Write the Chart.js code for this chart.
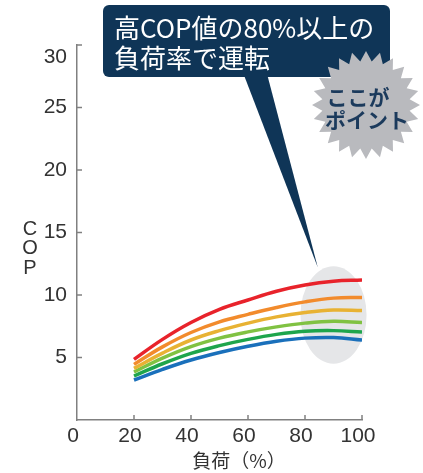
<!DOCTYPE html>
<html>
<head>
<meta charset="utf-8">
<script src="https://cdn.jsdelivr.net/npm/chart.js@4"></script>
<style>
  body { margin: 0; background: #fff; }
</style>
</head>
<body>
<canvas id="chart" width="423" height="473"></canvas>
<script>
// load (%) and COP curves
const loads = [20, 30, 40, 50, 60, 70, 80, 90, 100]
const red = [4.85, 6.45, 7.8, 8.85, 9.6, 10.3, 10.8, 11.1, 11.2]
const orange = [4.45, 5.85, 7.0, 7.85, 8.45, 9.0, 9.45, 9.75, 9.8]
const yellow = [4.13, 5.35, 6.4, 7.15, 7.75, 8.25, 8.6, 8.8, 8.75]
const lightGreen = [3.84, 4.95, 5.87, 6.55, 7.05, 7.45, 7.75, 7.9, 7.8]
const green = [3.52, 4.5, 5.33, 5.95, 6.45, 6.85, 7.1, 7.15, 7.04]
const blue = [3.2, 4.05, 4.8, 5.4, 5.9, 6.3, 6.55, 6.6, 6.4]

const xTicks = [0, 20, 40, 60, 80, 100]
const yTicks = [5, 10, 15, 20, 25, 30]

// highlighted zone (center load, center COP, half widths)
const zone = { x: 90, y: 8.4, rx: 11.6, ry: 3.9 }
const pointerTip = { x: 84.5, y: 12.2 }

const calloutLines = ["高COP値の80%以上の", "負荷率で運転"]
const badgeLines = ["ここが", "ポイント"]

const colors = ["#e8232b", "#f28b2c", "#e8b233", "#80c242", "#1ea54c", "#1a70bb"]
const series = [red, orange, yellow, lightGreen, green, blue]

function toPoints(values){
    return values.map((v, i) => ({ x: loads[i], y: v }))
}

const navy = "#0f3557"
const axisColor = "#808080"
const textColor = "#333"

const decorations = {
    id: "decorations",
    beforeDatasetsDraw(chart){
        const ctx = chart.ctx
        const xs = chart.scales.x, ys = chart.scales.y
        const cx = xs.getPixelForValue(zone.x), cy = ys.getPixelForValue(zone.y)
        const rx = xs.getPixelForValue(zone.x + zone.rx) - cx
        const ry = cy - ys.getPixelForValue(zone.y + zone.ry)
        ctx.save()
        ctx.fillStyle = "#e5e6e8"
        ctx.beginPath()
        ctx.ellipse(cx, cy, rx, ry, 0, 0, Math.PI * 2)
        ctx.fill()
        ctx.restore()
    },
    afterDraw(chart){
        const ctx = chart.ctx
        const xs = chart.scales.x, ys = chart.scales.y
        const area = chart.chartArea
        ctx.save()

        // inward ticks and y labels (top label sits a bit below its tick)
        ctx.strokeStyle = axisColor
        ctx.lineWidth = 1.5
        ctx.fillStyle = textColor
        ctx.font = "21px 'Liberation Sans'"
        ctx.textAlign = "right"
        ctx.textBaseline = "middle"
        yTicks.forEach(t => {
            const y = ys.getPixelForValue(t)
            ctx.beginPath()
            ctx.moveTo(area.left, y)
            ctx.lineTo(area.left + 5, y)
            ctx.stroke()
            ctx.fillText(String(t), area.left - 10, Math.max(y, 57))
        })
        xTicks.slice(1).forEach(t => {
            const x = xs.getPixelForValue(t)
            ctx.beginPath()
            ctx.moveTo(x, area.bottom)
            ctx.lineTo(x, area.bottom - 5)
            ctx.stroke()
        })

        // axis titles
        ctx.textAlign = "center"
        ctx.font = "19px 'Noto Sans CJK JP'"
        ctx.fillText("負荷（%）", 239, 461)
        ctx.font = "20px 'Liberation Sans'"
        ;["C", "O", "P"].forEach((c, i) => ctx.fillText(c, 30, 229 + i * 19.5))

        // callout
        const tx = xs.getPixelForValue(pointerTip.x), ty = ys.getPixelForValue(pointerTip.y)
        ctx.fillStyle = navy
        ctx.beginPath()
        ctx.moveTo(242, 70)
        ctx.lineTo(266, 70)
        ctx.lineTo(tx, ty)
        ctx.closePath()
        ctx.fill()
        ctx.beginPath()
        ctx.roundRect(103, 5, 287, 72, 6)
        ctx.fill()
        ctx.fillStyle = "#fff"
        ctx.textAlign = "left"
        ctx.font = "26px 'Noto Sans CJK JP'"
        ctx.fillText(calloutLines[0], 114, 28)
        ctx.fillText(calloutLines[1], 114, 58)

        // starburst badge
        const sx = 366, sy = 105, outer = 54, inner = 44, spikes = 24
        ctx.fillStyle = "#b9babe"
        ctx.beginPath()
        for (let i = 0; i < spikes * 2; i++){
            const r = i % 2 === 0 ? outer : inner
            const a = -Math.PI / 2 + i * Math.PI / spikes
            const px = sx + r * Math.cos(a), py = sy + r * Math.sin(a)
            if (i === 0) ctx.moveTo(px, py); else ctx.lineTo(px, py)
        }
        ctx.closePath()
        ctx.fill()
        ctx.fillStyle = "#1b3a5c"
        ctx.textAlign = "center"
        ctx.font = "bold 21px 'Noto Sans CJK JP'"
        ctx.fillText(badgeLines[0], 358, 97)
        ctx.fillText(badgeLines[1], 367, 120)

        ctx.restore()
    }
}

const chart = new Chart(document.getElementById("chart"), {
    type: "line",
    data: {
        datasets: series.map((s, i) => ({
            data: toPoints(s),
            borderColor: colors[i],
            borderWidth: 3.5,
            pointRadius: 0,
            tension: 0.4,
            fill: false
        }))
    },
    options: {
        responsive: false,
        animation: false,
        layout: { padding: { top: 45, right: 61, left: 0, bottom: 0 } },
        plugins: { legend: { display: false }, tooltip: { enabled: false } },
        scales: {
            x: {
                type: "linear",
                min: 0,
                max: 100,
                afterFit: s => { s.height = 53 },
                afterBuildTicks: s => { s.ticks = xTicks.map(v => ({ value: v })) },
                grid: { display: false },
                border: { color: axisColor, width: 1.5 },
                ticks: {
                    color: textColor,
                    font: { family: "'Liberation Sans'", size: 21 },
                    padding: -4,
                    labelOffset: -4,
                    maxRotation: 0
                }
            },
            y: {
                type: "linear",
                min: 0,
                max: 30,
                afterFit: s => { s.width = 77 },
                afterBuildTicks: s => { s.ticks = yTicks.map(v => ({ value: v })) },
                grid: { display: false },
                border: { color: axisColor, width: 1.5 },
                ticks: { display: false }
            }
        }
    },
    plugins: [decorations]
})
</script>
</body>
</html>
